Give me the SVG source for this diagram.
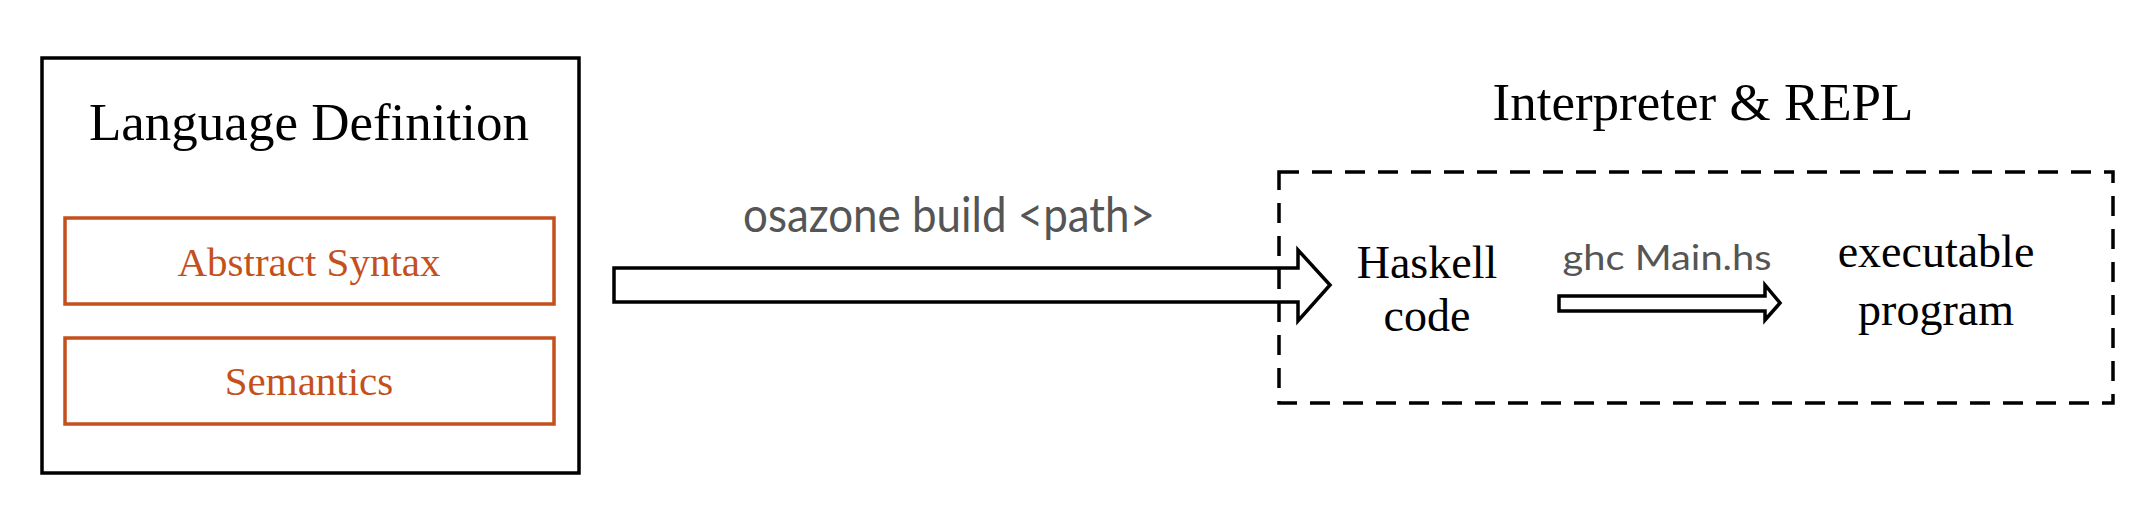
<svg xmlns="http://www.w3.org/2000/svg" width="2155" height="511" viewBox="0 0 2155 511">
<style>
.serif{font-family:"Liberation Serif","Times New Roman",serif;fill:#000;text-anchor:middle}
.orange{fill:#c4501c}
.obox{fill:#fff;stroke:#c4501c;stroke-width:3.5}
.label{font-family:Lato,"Open Sans",sans-serif;fill:#555;text-anchor:middle}
.arrow{fill:#fff;stroke:#000;stroke-width:3.5;stroke-linejoin:miter}
</style>
<rect width="2155" height="511" fill="#fff"/>
<g id="language-definition">
<rect x="42" y="58" width="537" height="415" fill="#fff" stroke="#000" stroke-width="3.5"/>
<text class="serif" x="309" y="140" font-size="53">Language Definition</text>
</g>
<g id="abstract-syntax">
<rect class="obox" x="65" y="218" width="489" height="86"/>
<text class="serif orange" x="309" y="276" font-size="41">Abstract Syntax</text>
</g>
<g id="semantics">
<rect class="obox" x="65" y="338" width="489" height="86"/>
<text class="serif orange" x="309" y="395" font-size="41">Semantics</text>
</g>
<g id="connectors">
<polygon class="arrow" points="614,268 1298,268 1298,250 1330,285 1298,321 1298,302 614,302"/>
<text class="label" x="949" y="232" font-size="48" textLength="412" lengthAdjust="spacingAndGlyphs">osazone build &lt;path&gt;</text>
<polygon class="arrow" points="1559,296 1765,296 1765,285 1780,303 1765,320 1765,311 1559,311"/>
<text class="label" x="1667" y="270" font-size="35" textLength="209" lengthAdjust="spacingAndGlyphs">ghc Main.hs</text>
</g>
<g id="interpreter-repl">
<text class="serif" x="1703" y="120" font-size="53">Interpreter &amp; REPL</text>
<rect x="1279" y="172" width="834" height="231" fill="none" stroke="#000" stroke-width="3.5" stroke-dasharray="20 13"/>
</g>
<g id="haskell-code">
<text class="serif" x="1427" y="278" font-size="46">Haskell</text>
<text class="serif" x="1427" y="331" font-size="46">code</text>
</g>
<g id="executable-program">
<text class="serif" x="1936" y="267" font-size="46">executable</text>
<text class="serif" x="1936" y="325" font-size="46">program</text>
</g>
</svg>
